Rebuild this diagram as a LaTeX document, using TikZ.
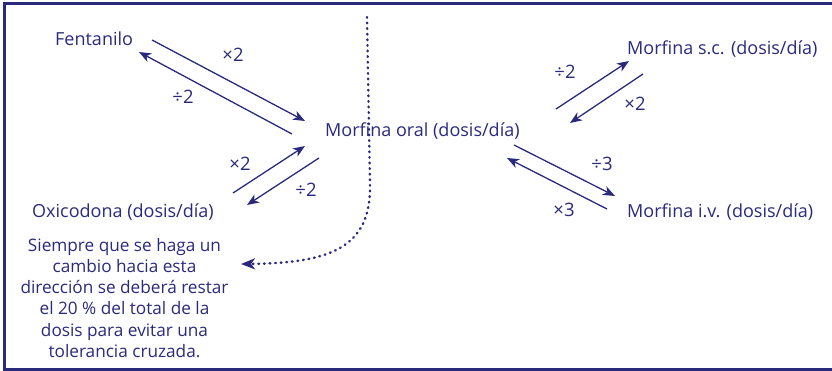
\documentclass[tikz,border=0pt]{standalone}
\usepackage{fontspec}
\setmainfont{Open Sans}
\usetikzlibrary{arrows.meta}
\definecolor{navy}{RGB}{42,42,124}
\tikzset{
  lbl/.style={text=navy,font=\fontsize{18}{21}\selectfont,inner sep=0pt},
  fac/.style={text=navy,font=\fontsize{18.5}{20}\selectfont,inner sep=0pt},
  conv/.style={draw=navy,line width=1.3pt,-{Stealth[length=12pt,width=9.5pt,inset=3.5pt]}},
  hint/.style={draw=navy,line width=2.4pt,line cap=round,dash pattern=on 0.8pt off 4.8pt,-{Stealth[length=14pt,width=11pt,inset=4pt]}},
}
\begin{document}
\begin{tikzpicture}[x=1pt,y=-1pt]
\useasboundingbox (0,0) rectangle (832,371);
\draw[navy,line width=2.4pt] (833,3.5) -- (4.5,3.5) -- (4.5,369.5) -- (833,369.5);
% drug names
\node[lbl,anchor=base west] (fen) at (55,45.5) {Fentanilo};
\node[lbl,anchor=base west] (mor) at (325,137) {Morfina oral (dosis/día)};
\node[lbl,anchor=base west] (oxi) at (32,218) {Oxicodona (dosis/día)};
\node[lbl,anchor=base west] (msc) at (627,55) {Morfina s.c. (dosis/día)};
\node[lbl,anchor=base west] (miv) at (627,218) {Morfina i.v. (dosis/día)};
\node[text=navy,font=\fontsize{17.2}{21.2}\selectfont,align=center,inner sep=0pt,anchor=north] (note) at (124.5,238)
  {Siempre que se haga un\\cambio hacia esta\\dirección se deberá restar\\el 20~\% del total de la\\dosis para evitar una\\tolerancia cruzada.};
% arrow end points
\coordinate (a1) at (152,40);  \coordinate (b1) at (305,121);
\coordinate (a2) at (292,134); \coordinate (b2) at (139,52);
\coordinate (a3) at (233,193); \coordinate (b3) at (305,146);
\coordinate (a4) at (319,158); \coordinate (b4) at (247,205);
\coordinate (a5) at (556,109); \coordinate (b5) at (629,61);
\coordinate (a6) at (643,74);  \coordinate (b6) at (570,123);
\coordinate (a7) at (514,145); \coordinate (b7) at (615,196);
\coordinate (a8) at (607,209); \coordinate (b8) at (507,158);
\draw[conv] (a1) -- (b1);
\draw[conv] (a2) -- (b2);
\draw[conv] (a3) -- (b3);
\draw[conv] (a4) -- (b4);
\draw[conv] (a5) -- (b5);
\draw[conv] (a6) -- (b6);
\draw[conv] (a7) -- (b7);
\draw[conv] (a8) -- (b8);
% factors
\node[fac] (f1) at (233,55) {×2};
\node[fac] (f2) at (183,97) {÷2};
\node[fac] (f3) at (240,164) {×2};
\node[fac] (f4) at (306,190) {÷2};
\node[fac] (f5) at (565,72) {÷2};
\node[fac] (f6) at (635,104) {×2};
\node[fac] (f7) at (602,164) {÷3};
\node[fac] (f8) at (564,210) {×3};
% dotted boundary
\coordinate (top) at (367,17);
\coordinate (bend) at (370,185);
\coordinate (tip) at (241,264);
\draw[hint] (top) -- (bend) .. controls (371,248) and (330,263) .. (tip);
\end{tikzpicture}
\end{document}
